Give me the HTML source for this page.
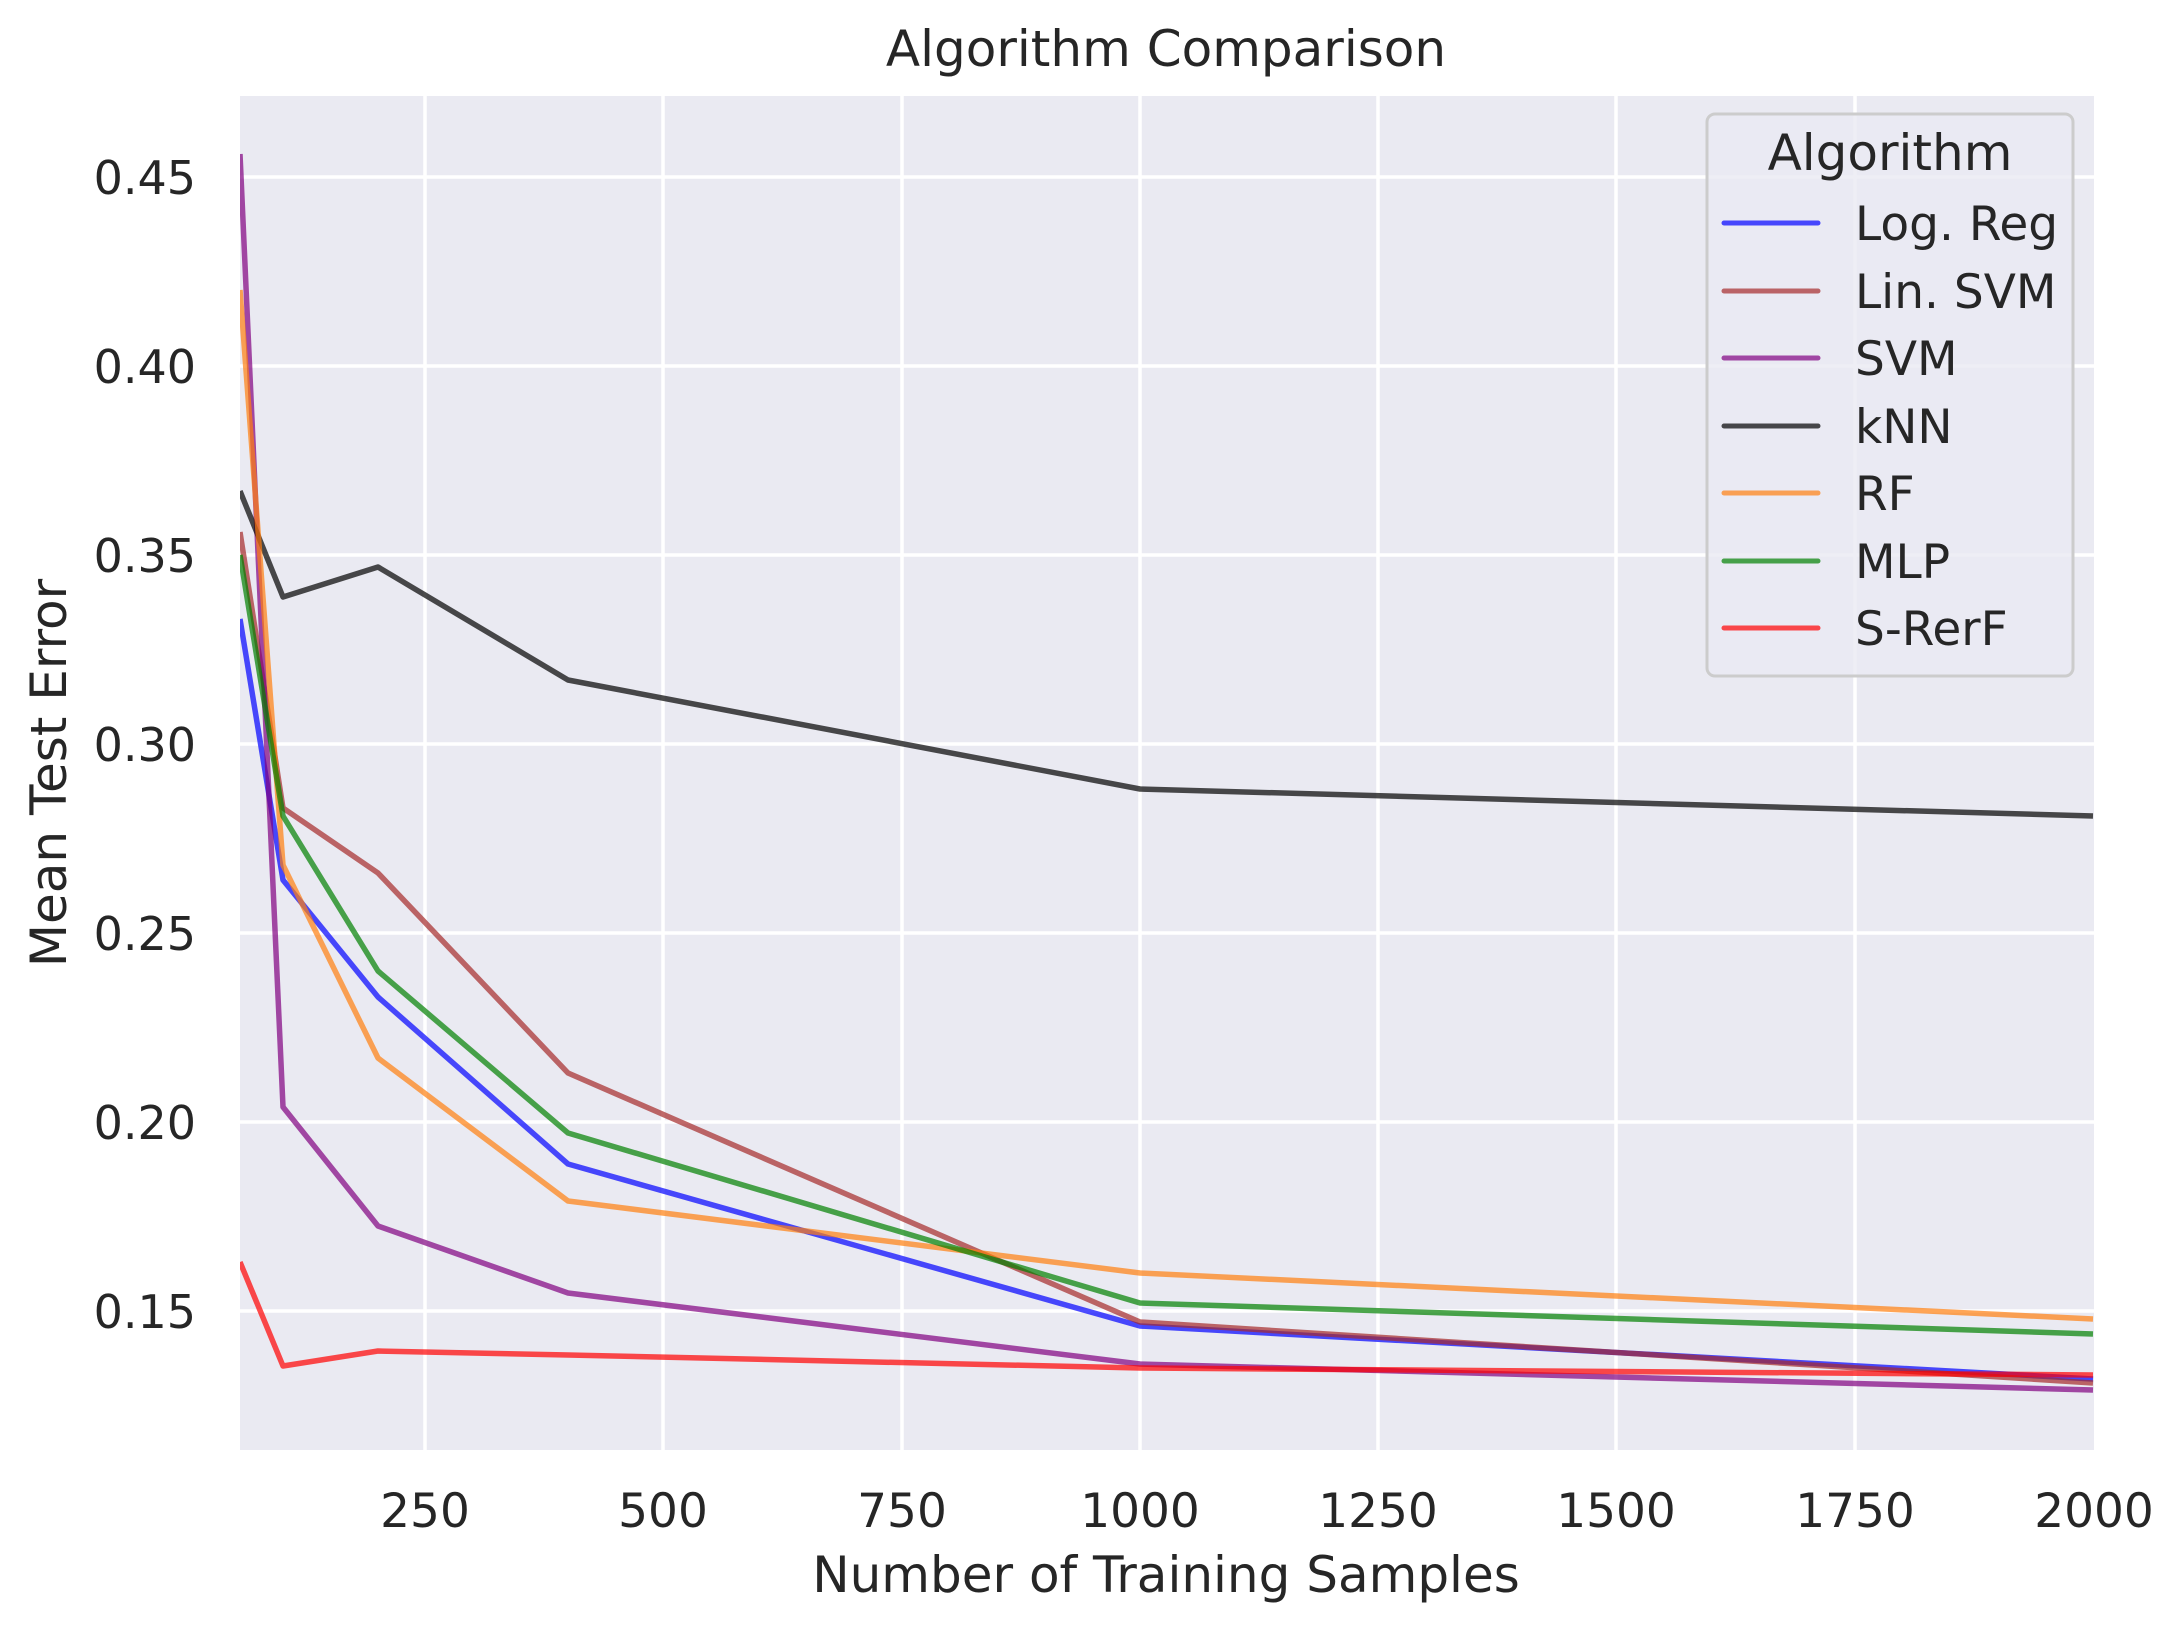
<!DOCTYPE html>
<html><head><meta charset="utf-8"><style>html,body{margin:0;padding:0;background:#fff}svg{display:block}</style></head>
<body>
<svg width="2184" height="1631" viewBox="0 0 2184 1631" xmlns="http://www.w3.org/2000/svg" font-family="'DejaVu Sans','Liberation Sans',sans-serif" fill="#262626">
<defs><clipPath id="c"><rect x="240" y="96" width="1854" height="1354"/></clipPath></defs>
<rect x="240" y="96" width="1854" height="1354" fill="#eaeaf2"/>
<g stroke="#fff" stroke-width="3.5">
<line x1="425" y1="96" x2="425" y2="1450"/><line x1="663" y1="96" x2="663" y2="1450"/><line x1="902" y1="96" x2="902" y2="1450"/><line x1="1140" y1="96" x2="1140" y2="1450"/><line x1="1378" y1="96" x2="1378" y2="1450"/><line x1="1616" y1="96" x2="1616" y2="1450"/><line x1="1855" y1="96" x2="1855" y2="1450"/>
<line x1="240" y1="177" x2="2094" y2="177"/><line x1="240" y1="366" x2="2094" y2="366"/><line x1="240" y1="555" x2="2094" y2="555"/><line x1="240" y1="744" x2="2094" y2="744"/><line x1="240" y1="933" x2="2094" y2="933"/><line x1="240" y1="1122" x2="2094" y2="1122"/><line x1="240" y1="1311" x2="2094" y2="1311"/>
</g>
<g clip-path="url(#c)" fill="none" stroke-width="5.5" stroke-linejoin="round" stroke-opacity="0.7">
<polyline stroke="#0000ff" points="240,619 283,880 378,997 568,1164 1140,1326 2093,1379"/>
<polyline stroke="#a52a2a" points="240,532 283,808 378,873 568,1073 1140,1322 2093,1383"/>
<polyline stroke="#800080" points="240,154 283,1107 378,1226 568,1293 1140,1364 2093,1390"/>
<polyline stroke="#000000" points="240,491 283,597 378,567 568,680 1140,789 2093,816"/>
<polyline stroke="#ff7f0e" points="240,290 283,865 378,1058 568,1201 1140,1273 2093,1319"/>
<polyline stroke="#008000" points="240,555 283,816 378,971 568,1133 1140,1303 2093,1334"/>
<polyline stroke="#ff0000" points="240,1262 283,1366 378,1351 568,1355 1140,1368 2093,1375"/>
</g>
<g font-size="46" text-anchor="end">
<text x="196" y="194">0.45</text><text x="196" y="383">0.40</text><text x="196" y="572">0.35</text><text x="196" y="761">0.30</text><text x="196" y="950">0.25</text><text x="196" y="1139">0.20</text><text x="196" y="1328">0.15</text>
</g>
<g font-size="47" text-anchor="middle">
<text x="425" y="1527">250</text><text x="663" y="1527">500</text><text x="902" y="1527">750</text><text x="1140" y="1527">1000</text><text x="1378" y="1527">1250</text><text x="1616" y="1527">1500</text><text x="1855" y="1527">1750</text><text x="2094" y="1527">2000</text>
</g>
<text x="1166" y="1592" font-size="50" text-anchor="middle">Number of Training Samples</text>
<text x="1166" y="66" font-size="50" text-anchor="middle">Algorithm Comparison</text>
<text transform="translate(66,773) rotate(-90)" font-size="50" text-anchor="middle">Mean Test Error</text>
<rect x="1707" y="114" width="366" height="562" rx="8" fill="#eaeaf2" fill-opacity="0.8" stroke="#cccccc" stroke-width="3"/>
<text x="1890" y="170" font-size="50" text-anchor="middle">Algorithm</text>
<g stroke-width="5" stroke-linecap="round" stroke-opacity="0.7">
<line x1="1724" y1="223" x2="1818" y2="223" stroke="#0000ff"/>
<line x1="1724" y1="291" x2="1818" y2="291" stroke="#a52a2a"/>
<line x1="1724" y1="358" x2="1818" y2="358" stroke="#800080"/>
<line x1="1724" y1="426" x2="1818" y2="426" stroke="#000000"/>
<line x1="1724" y1="493" x2="1818" y2="493" stroke="#ff7f0e"/>
<line x1="1724" y1="561" x2="1818" y2="561" stroke="#008000"/>
<line x1="1724" y1="628" x2="1818" y2="628" stroke="#ff0000"/>
</g>
<g font-size="47">
<text x="1855" y="240">Log. Reg</text><text x="1855" y="308">Lin. SVM</text><text x="1855" y="375">SVM</text><text x="1855" y="443">kNN</text><text x="1855" y="510">RF</text><text x="1855" y="578">MLP</text><text x="1855" y="645">S-RerF</text>
</g>
</svg>
</body></html>
